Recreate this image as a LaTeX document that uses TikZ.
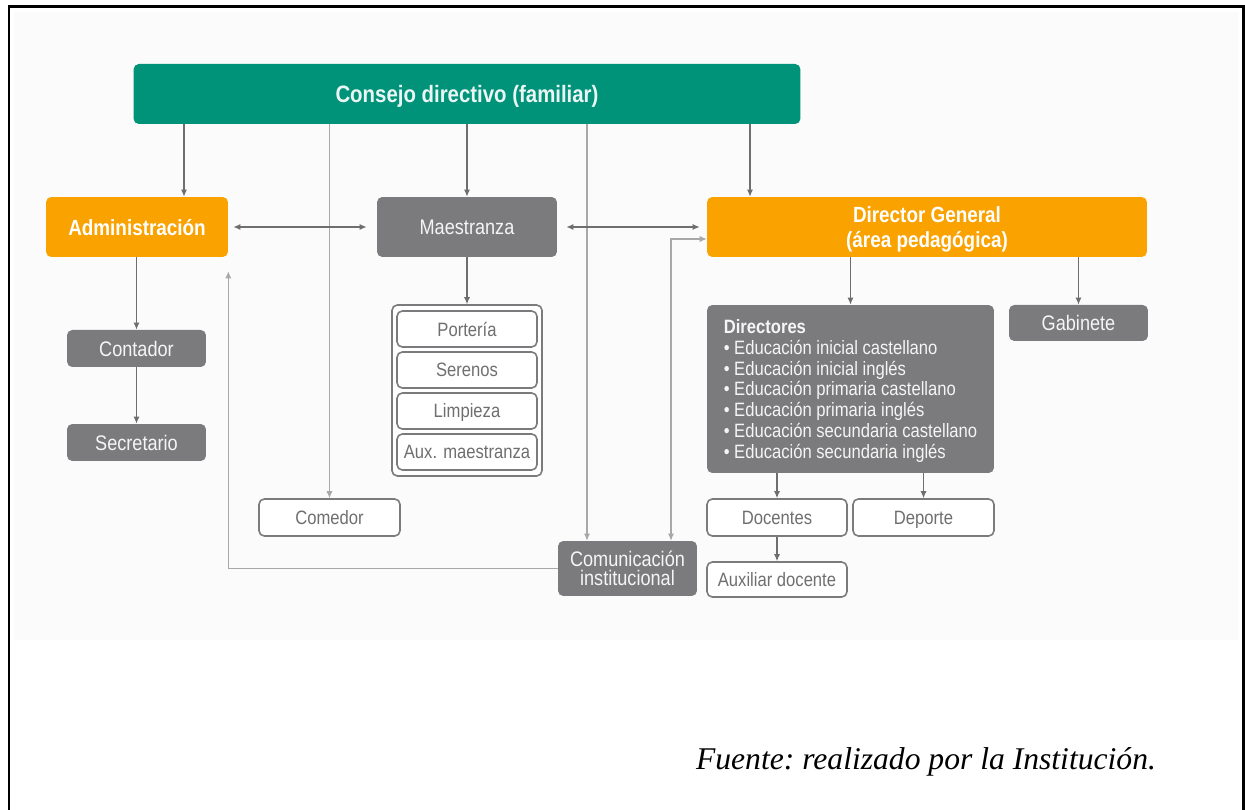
\documentclass[tikz,border=0pt]{standalone}
\usepackage{fontspec}
\setmainfont{Liberation Sans}[FakeStretch=0.86]
\newfontfamily\fuentefont{Liberation Serif}
\usetikzlibrary{calc}
\usetikzlibrary{arrows.meta}
\definecolor{verde}{HTML}{009379}
\definecolor{naranja}{HTML}{F9A200}
\definecolor{gris}{HTML}{7B7B7D}
\definecolor{linea}{HTML}{6E6E6E}
\definecolor{lineaclara}{HTML}{A8A8A8}
\definecolor{textogris}{HTML}{6F6F6F}

\begin{document}
\begin{tikzpicture}[x=0.02cm, y=-0.02cm,
    box/.style={rounded corners=3pt, inner sep=0pt, align=center, text depth=0pt, font=\fontsize{12}{13.5}\selectfont},
    verdebox/.style={box, fill=verde, text=verde!8!white, font=\fontsize{13.5}{15}\selectfont\bfseries},
    naranjabox/.style={box, fill=naranja, text=white, font=\fontsize{12.5}{14}\selectfont\bfseries},
    grisbox/.style={box, fill=gris, text=white!92!gris},
    blancobox/.style={box, draw=gris, line width=0.9pt, fill=white, text=textogris, font=\fontsize{11}{12.5}\selectfont},
    conn/.style={draw=linea, line width=0.7pt, -{Latex[length=4pt,width=3.5pt]}},
    connclara/.style={conn, draw=lineaclara, line width=0.6pt}]
    \useasboundingbox (0,0) rectangle (1245,810);
    \fill[black!1.5] (14,12) rectangle (1238,640);
    \draw[line width=1.7pt] (9,810) -- (9,7) -- (1243,7) -- (1243,810);

    % nivel superior
    \node[verdebox, minimum width=13.34cm, minimum height=1.2cm] (consejo) at (467,94) {Consejo directivo (familiar)};
    \node[naranjabox, minimum width=3.64cm, minimum height=1.2cm] (admin) at (137,227) {Administración};
    \node[grisbox, minimum width=3.6cm, minimum height=1.2cm] (maes) at (467,227) {Maestranza};
    \node[naranjabox, minimum width=8.8cm, minimum height=1.2cm] (dirgen) at (927,227) {Director General\\(área pedagógica)};

    % administracion
    \node[grisbox, minimum width=2.78cm, minimum height=0.74cm] (contador) at (136.5,348.5) {Contador};
    \node[grisbox, minimum width=2.78cm, minimum height=0.74cm] (secret) at (136.5,442.5) {Secretario};

    % maestranza
    \node[blancobox, minimum width=3.0cm, minimum height=3.42cm] (grupo) at (467,390.5) {};
    \foreach \t/\y [count=\i] in {Portería/329, Serenos/370, Limpieza/411, Aux. maestranza/452}
        \node[blancobox, minimum width=2.8cm, minimum height=0.72cm] (g\i) at (467,\y) {\t};
    \node[blancobox, minimum width=2.82cm, minimum height=0.74cm] (comedor) at (329.5,517.5) {Comedor};
    \node[grisbox, minimum width=2.78cm, minimum height=1.1cm, font=\fontsize{12}{11}\selectfont] (comun) at (627.5,568.5) {Comunicación\\institucional};

    % area pedagogica
    \node[grisbox, minimum width=5.74cm, minimum height=3.36cm, align=left,
          font=\fontsize{11}{11.8}\selectfont] (directores) at (850.5,389)
        {\textbf{Directores}\\
         \textbullet\ Educación inicial castellano\\
         \textbullet\ Educación inicial inglés\\
         \textbullet\ Educación primaria castellano\\
         \textbullet\ Educación primaria inglés\\
         \textbullet\ Educación secundaria castellano\\
         \textbullet\ Educación secundaria inglés};
    \node[grisbox, minimum width=2.78cm, minimum height=0.72cm] (gabinete) at (1078.5,323) {Gabinete};
    \node[blancobox, minimum width=2.8cm, minimum height=0.74cm] (docentes) at (777,517.5) {Docentes};
    \node[blancobox, minimum width=2.82cm, minimum height=0.74cm] (deporte) at (923.5,517.5) {Deporte};
    \node[blancobox, minimum width=2.8cm, minimum height=0.7cm] (auxdoc) at (777,579.5) {Auxiliar docente};

    % conectores
    \draw[conn] (consejo.south -| 184,0) -- (admin.north -| 184,0);
    \draw[conn] (consejo.south -| 750,0) -- (dirgen.north -| 750,0);
    \draw[connclara] (consejo.south -| comedor.north) -- (comedor.north);
    \draw[connclara] (consejo.south -| 587,0) -- (comun.north -| 587,0);
    \foreach \a/\b in {consejo/maes, admin/contador, contador/secret, maes/grupo, dirgen/directores, dirgen/gabinete, directores/docentes, directores/deporte, docentes/auxdoc}
        \draw[conn] (\a.south -| \b.north) -- (\b.north);
    \draw[conn, {Latex[length=4pt,width=3.5pt]}-{Latex[length=4pt,width=3.5pt]}, shorten <=0.1cm, shorten >=0.2cm] (admin.east) -- (maes.west);
    \draw[conn, {Latex[length=4pt,width=3.5pt]}-{Latex[length=4pt,width=3.5pt]}, shorten <=0.18cm, shorten >=0.14cm] (maes.east) -- (dirgen.west);
    \draw[connclara, {Latex[length=4pt,width=3.5pt]}-{Latex[length=4pt,width=3.5pt]}] (comun.north -| 671,0) |- (dirgen.west |- 0,239);
    \draw[connclara] (comun.west) -| ($(admin.south east)+(0,14)$);

    \node[font=\fuentefont\itshape\fontsize{18}{20}\selectfont, anchor=base] (fuente) at (926,770) {\frenchspacing Fuente: realizado por la Institución.};
\end{tikzpicture}
\end{document}
